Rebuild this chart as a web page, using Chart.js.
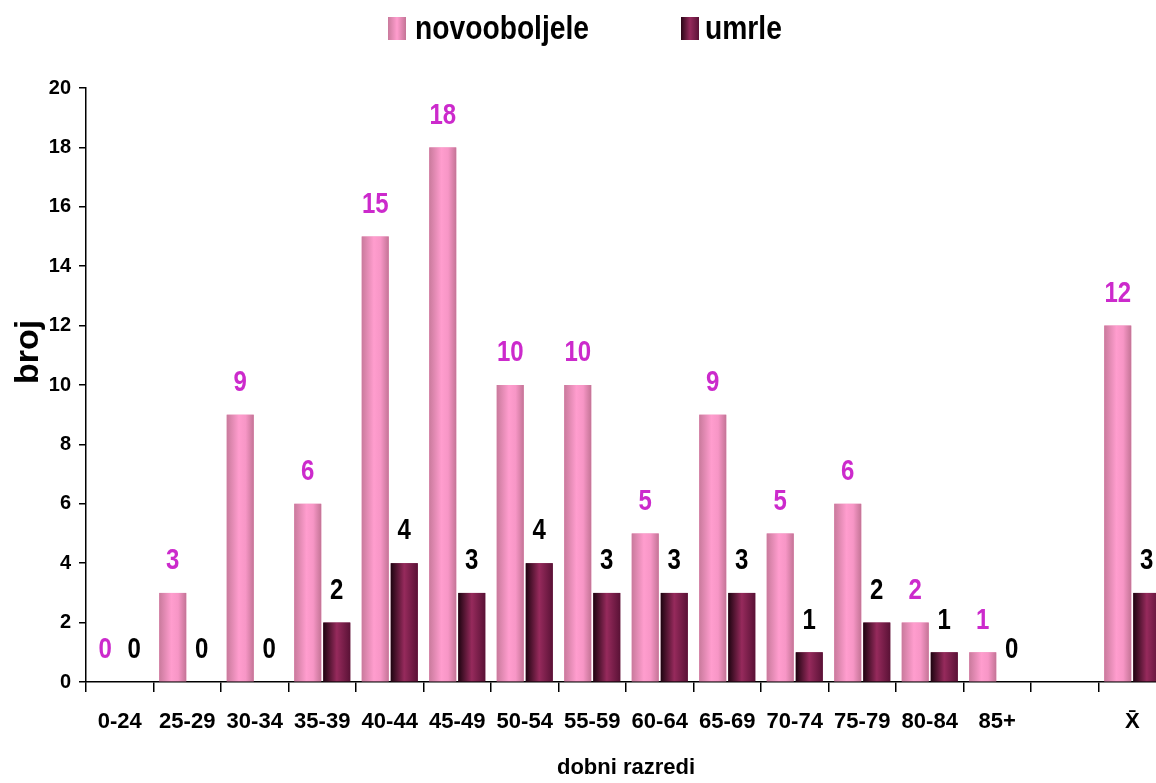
<!DOCTYPE html>
<html>
<head>
<meta charset="utf-8">
<script src="https://cdn.jsdelivr.net/npm/chart.js@4.4.1/dist/chart.umd.min.js"></script>
<style>
  html, body { margin: 0; padding: 0; background: #fff; overflow: hidden; }
  #wrap { position: relative; width: 1156px; height: 783px; overflow: hidden; }
  #box { position: absolute; left: 0; top: 0; width: 1166px; height: 783px; }
  .key { position: absolute; top: 17px; width: 18px; height: 23px; }
  .txt { position: absolute; top: 10px; font: bold 34px "Liberation Sans", Arial, sans-serif; line-height: 34px; color: #000; white-space: nowrap; transform: scaleX(0.83); transform-origin: 0 0; }
</style>
</head>
<body>
<div id="wrap">
  <div id="box"><canvas id="ageChart"></canvas></div>
  <span class="key" style="left:388px; background: linear-gradient(90deg, #c97a9c, #ff9dce 50%, #c47496);"></span>
  <span class="txt" style="left:415px;">novooboljele</span>
  <span class="key" style="left:681px; background: linear-gradient(90deg, #2a0616, #962a5c 50%, #5a1236);"></span>
  <span class="txt" style="left:705px;">umrle</span>
</div>
<script>
// podaci
const ageGroups = ['0-24', '25-29', '30-34', '35-39', '40-44', '45-49', '50-54', '55-59',
                   '60-64', '65-69', '70-74', '75-79', '80-84', '85+', '', 'X\u0304'];
const novooboljele = [0, 3, 9, 6, 15, 18, 10, 10, 5, 9, 5, 6, 2, 1, null, 12];
const umrle = [0, 0, 0, 2, 4, 3, 4, 3, 3, 3, 1, 2, 1, 0, null, 3];

const FONT = '"Liberation Sans", Arial, sans-serif';

// cilindricno sjencanje stupaca + brojke iznad stupaca
const barDecor = {
  id: 'barDecor',
  afterDatasetsDraw(chart) {
    const ctx = chart.ctx;
    const stops = [
      [[0, '#c97a9c'], [0.45, '#ff9dce'], [0.7, '#f796c6'], [1, '#c47496']],
      [[0, '#1e0410'], [0.5, '#962a5c'], [1, '#5a1236']]
    ];
    ctx.save();
    chart.data.datasets.forEach((ds, di) => {
      chart.getDatasetMeta(di).data.forEach((bar, i) => {
        if (ds.data[i] === null || isNaN(bar.x)) return;
        const left = bar.x - bar.width / 2;
        const g = ctx.createLinearGradient(left, 0, left + bar.width, 0);
        stops[di].forEach(s => g.addColorStop(s[0], s[1]));
        ctx.fillStyle = g;
        ctx.fillRect(left, bar.y, bar.width, bar.base - bar.y);
      });
    });
    ctx.font = 'bold 30px ' + FONT;
    ctx.textAlign = 'center';
    ctx.textBaseline = 'middle';
    chart.data.datasets.forEach((ds, di) => {
      ctx.fillStyle = di === 0 ? '#cc2acc' : '#000';
      chart.getDatasetMeta(di).data.forEach((bar, i) => {
        if (ds.data[i] === null || isNaN(bar.x)) return;
        ctx.save();
        ctx.translate(bar.x, bar.y - 32);
        ctx.scale(0.8, 1);   // uzi font
        ctx.fillText(String(ds.data[i]), 0, 0);
        ctx.restore();
      });
    });
    ctx.restore();
  },
  afterDraw(chart) {
    const ctx = chart.ctx;
    ctx.save();
    ctx.translate(29, 352);
    ctx.rotate(-Math.PI / 2);
    ctx.font = 'bold 34px ' + FONT;
    ctx.fillStyle = '#000';
    ctx.textAlign = 'center';
    ctx.textBaseline = 'middle';
    ctx.fillText('broj', 0, 0);
    ctx.restore();
  }
};

new Chart(document.getElementById('ageChart'), {
  type: 'bar',
  data: {
    labels: ageGroups,
    datasets: [
      { label: 'novooboljele', data: novooboljele, backgroundColor: '#f090bd',
        categoryPercentage: 0.86, barPercentage: 0.93 },
      { label: 'umrle', data: umrle, backgroundColor: '#7a1d48',
        categoryPercentage: 0.86, barPercentage: 0.93 }
    ]
  },
  options: {
    responsive: true,
    maintainAspectRatio: false,
    animation: false,
    layout: { padding: { top: 88, right: 0, bottom: 0, left: 0 } },
    plugins: {
      legend: { display: false },
      tooltip: { enabled: false }
    },
    scales: {
      x: {
        afterFit: s => { s.height = 101; },
        grid: { display: true, drawOnChartArea: false, drawTicks: true, tickLength: 10, color: '#000', lineWidth: 1.5, offset: true },
        border: { color: '#000', width: 1.5 },
        ticks: { color: '#000', font: { family: FONT, weight: 'bold', size: 22 }, padding: 17, maxRotation: 0, autoSkip: false },
        title: { display: true, text: 'dobni razredi', color: '#000', font: { family: FONT, weight: 'bold', size: 22 }, padding: { top: 4, bottom: 2 } }
      },
      y: {
        min: 0,
        max: 20,
        afterFit: s => { s.width = 86; },
        grid: { display: true, drawOnChartArea: false, drawTicks: true, tickLength: 7, color: '#000', lineWidth: 1.5 },
        border: { color: '#000', width: 1.5 },
        ticks: { stepSize: 2, color: '#000', font: { family: FONT, weight: 'bold', size: 20 }, padding: 8 }
      }
    }
  },
  plugins: [barDecor]
});
</script>
</body>
</html>
